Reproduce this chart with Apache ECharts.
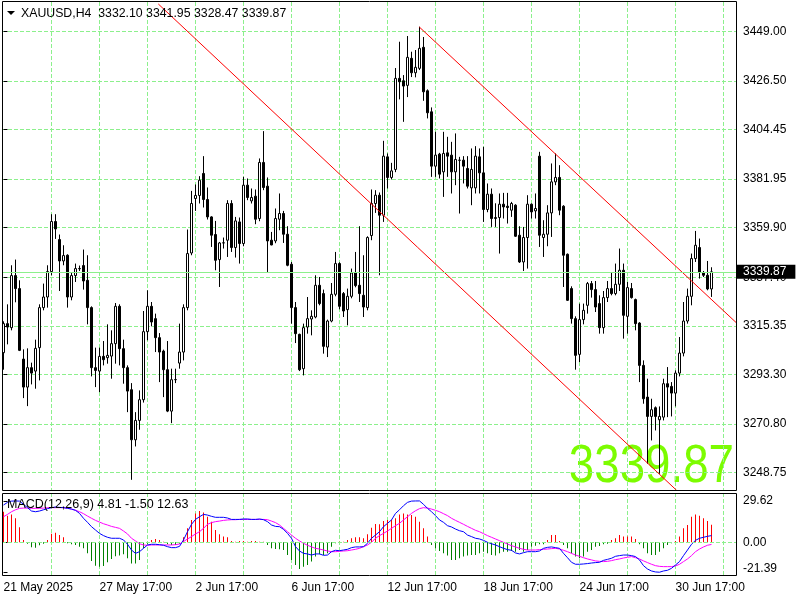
<!DOCTYPE html>
<html><head><meta charset="utf-8">
<script src="https://cdn.jsdelivr.net/npm/echarts@6/dist/echarts.min.js"></script>
<style>html,body{margin:0;padding:0;background:#fff}#c{width:800px;height:600px}</style>
</head><body><div id="c"></div>
<script>
const symbol = 'XAUUSD';
const timeframe = 'H4';
const macdParams = '12,26,9';

const opens = [3303.16,3316.35,3314.53,3338.17,3332.26,3300.25,3287.53,3296.35,3294.80,3305.44,
3323.62,3328.44,3339.99,3362.72,3354.53,3344.81,3347.40,3328.44,3338.17,3341.35,
3342.71,3336.03,3323.62,3296.35,3294.80,3301.48,3300.89,3301.62,3307.26,3324.21,
3304.98,3296.35,3286.34,3263.61,3272.39,3281.80,3312.71,3324.21,3318.62,3309.98,
3303.89,3295.44,3276.62,3290.89,3298.44,3303.44,3323.62,3348.44,3373.17,3374.54,
3384.54,3372.72,3364.81,3356.81,3345.44,3352.99,3354.22,3370.90,3350.90,3362.54,
3352.72,3379.22,3372.08,3374.22,3364.08,3389.54,3378.76,3354.22,3353.90,3363.76,
3366.35,3356.94,3343.31,3323.62,3311.48,3295.89,3314.80,3318.44,3319.35,3333.76,
3329.99,3305.71,3317.53,3329.67,3343.62,3329.99,3322.71,3328.76,3339.35,3333.76,
3329.21,3323.62,3356.35,3370.90,3374.67,3365.58,3392.08,3382.72,3386.36,3427.72,
3426.63,3424.54,3436.82,3430.27,3432.27,3441.82,3422.09,3412.54,3387.86,3393.31,
3385.27,3393.90,3392.86,3385.27,3390.58,3390.58,3386.81,3377.99,3377.99,3392.08,
3384.81,3368.17,3375.13,3364.08,3364.54,3370.58,3369.67,3367.86,3370.13,3356.49,
3344.35,3355.44,3370.58,3367.54,3392.40,3355.44,3356.94,3366.63,3380.72,3382.72,
3369.67,3347.85,3332.26,3318.62,3302.39,3318.17,3324.67,3334.53,3331.80,3325.44,
3314.53,3328.17,3332.26,3329.99,3334.21,3340.58,3319.67,3332.26,3327.26,3316.62,
3297.39,3282.98,3274.21,3278.16,3272.70,3273.89,3289.07,3287.85,3284.80,3293.89,
3302.98,3317.53,3328.76,3345.90,3350.90,3339.35,3338.31,3332.10];

const highs = [3317.39,3325.12,3342.85,3345.44,3336.03,3304.66,3305.12,3298.62,3309.07,3325.12,
3334.53,3342.85,3366.04,3366.04,3356.81,3351.94,3347.85,3339.35,3343.62,3342.71,
3349.99,3347.40,3324.20,3305.44,3305.44,3308.44,3316.03,3313.30,3325.71,3325.12,
3309.07,3297.39,3289.34,3276.16,3286.03,3322.08,3331.49,3326.17,3320.89,3312.07,
3304.53,3308.44,3295.89,3295.89,3316.35,3325.12,3359.08,3376.63,3379.54,3383.31,
3392.40,3378.17,3365.13,3362.99,3353.44,3355.44,3372.40,3372.40,3364.81,3364.54,
3382.99,3382.26,3377.72,3377.26,3391.36,3403.77,3382.72,3357.99,3368.63,3375.45,
3367.54,3360.58,3344.35,3326.17,3311.80,3316.35,3328.44,3322.39,3338.31,3337.53,
3331.80,3318.17,3334.80,3348.90,3344.21,3330.71,3332.26,3341.35,3348.90,3360.58,
3347.40,3356.00,3377.26,3376.95,3375.90,3399.36,3393.63,3389.36,3432.41,3444.36,
3429.22,3446.95,3439.82,3440.59,3451.18,3446.50,3422.72,3414.54,3403.45,3393.90,
3403.45,3401.18,3398.90,3402.72,3392.08,3392.40,3392.40,3395.90,3396.95,3395.90,
3396.63,3379.99,3377.72,3371.00,3375.45,3375.72,3375.72,3371.63,3370.58,3360.58,
3360.26,3374.67,3370.90,3375.45,3394.36,3363.31,3370.13,3389.08,3393.63,3388.31,
3370.13,3348.20,3333.30,3319.67,3325.44,3325.44,3335.26,3335.71,3335.71,3329.21,
3331.17,3335.71,3339.80,3343.62,3350.44,3343.62,3335.26,3334.80,3327.72,3317.00,
3299.66,3291.34,3282.25,3278.75,3278.75,3291.34,3296.62,3289.80,3295.12,3310.26,
3326.17,3332.26,3348.17,3358.44,3354.99,3340.26,3344.80,3341.95];

const lows = [3295.44,3306.94,3313.30,3326.03,3303.89,3282.53,3278.89,3288.75,3286.80,3290.57,
3322.39,3323.62,3338.31,3354.81,3331.17,3342.85,3323.62,3326.94,3335.26,3340.26,
3331.80,3316.03,3292.39,3287.53,3285.25,3297.39,3298.16,3291.34,3298.16,3297.39,
3289.07,3276.16,3245.43,3260.57,3268.16,3280.50,3308.76,3315.12,3303.44,3289.80,
3282.98,3276.16,3271.16,3289.34,3295.89,3299.66,3322.39,3347.40,3367.54,3370.90,
3369.08,3363.63,3351.17,3340.58,3332.99,3350.44,3346.62,3348.90,3346.35,3343.62,
3351.49,3372.40,3370.90,3361.49,3362.85,3376.95,3339.53,3351.94,3352.85,3358.76,
3352.99,3342.40,3316.35,3307.53,3294.80,3292.84,3311.80,3311.03,3318.76,3324.67,
3302.71,3301.16,3316.94,3328.76,3322.85,3319.35,3315.57,3327.85,3332.85,3326.17,
3319.35,3322.39,3354.22,3366.63,3338.31,3362.54,3377.72,3381.81,3385.13,3418.18,
3407.99,3419.22,3428.32,3428.18,3431.50,3417.54,3409.54,3382.99,3382.99,3382.26,
3373.90,3382.99,3375.45,3379.22,3366.35,3379.99,3377.72,3370.13,3375.45,3375.45,
3362.54,3366.94,3360.26,3360.26,3348.17,3364.08,3361.81,3364.81,3355.72,3343.90,
3340.26,3341.35,3364.08,3364.08,3351.17,3346.62,3351.49,3355.72,3379.22,3365.58,
3332.99,3326.63,3316.35,3295.44,3298.89,3316.03,3320.89,3328.17,3321.62,3311.80,
3311.80,3326.17,3329.21,3329.21,3331.17,3309.53,3311.80,3327.72,3313.30,3289.80,
3279.98,3252.70,3263.30,3267.84,3248.16,3272.39,3273.89,3274.21,3278.75,3292.39,
3301.48,3316.35,3324.67,3344.35,3336.80,3337.53,3331.49,3328.47];

const closes = [3316.35,3314.80,3338.17,3332.26,3304.21,3287.53,3296.35,3293.89,3305.12,3323.62,
3328.44,3339.99,3362.72,3359.35,3344.81,3347.26,3328.44,3338.17,3341.35,3341.30,
3335.71,3323.62,3296.35,3295.12,3301.48,3299.98,3301.94,3307.26,3324.21,3304.98,
3296.35,3285.71,3263.61,3272.39,3281.80,3312.71,3324.21,3317.08,3309.98,3303.44,
3295.44,3276.62,3290.89,3290.95,3303.44,3323.62,3348.17,3370.90,3374.54,3381.49,
3372.72,3364.81,3356.49,3345.12,3352.99,3353.05,3370.90,3350.90,3362.99,3352.72,
3379.22,3373.63,3373.63,3363.76,3389.54,3378.17,3353.90,3352.08,3364.08,3366.35,
3356.94,3342.85,3323.62,3311.80,3295.44,3314.53,3318.62,3319.67,3333.76,3325.44,
3306.03,3317.53,3329.67,3343.62,3324.21,3322.08,3328.76,3339.35,3333.62,3329.99,
3323.89,3355.44,3370.90,3374.67,3365.58,3392.40,3382.72,3385.72,3427.72,3426.18,
3424.22,3437.27,3430.27,3432.73,3441.36,3421.63,3412.09,3387.86,3392.86,3384.22,
3393.63,3392.40,3385.27,3390.90,3390.50,3387.86,3378.76,3386.36,3392.40,3384.81,
3368.17,3375.13,3364.08,3364.54,3370.58,3369.35,3369.08,3370.90,3356.03,3344.35,
3355.44,3370.58,3367.08,3368.63,3356.49,3356.94,3366.63,3380.72,3382.72,3367.86,
3347.40,3326.94,3318.62,3301.94,3318.17,3322.39,3334.53,3331.80,3323.89,3314.53,
3328.17,3332.26,3329.99,3334.21,3340.58,3320.12,3332.71,3328.17,3316.35,3297.39,
3282.25,3274.21,3277.25,3274.21,3274.21,3289.07,3287.53,3284.80,3293.89,3302.98,
3317.53,3328.76,3345.90,3351.94,3339.80,3338.31,3332.10,3339.87];

const macdMain = [26.7,28.6,29.5,29.6,29.5,27.2,24.8,22.4,21.9,22.4,
23.3,24.1,24.8,25.3,25.0,24.8,24.3,23.8,22.9,20.7,
17.2,14.3,11.2,8.8,6.4,4.8,3.6,2.9,2.9,2.9,
1.7,-1.4,-5.5,-7.9,-6.7,-4.3,-1.9,-1.4,-1.4,-1.7,
-2.1,-3.1,-3.8,-3.8,-2.9,1.7,7.6,12.9,16.4,18.3,
20.0,19.5,18.6,17.9,17.9,17.9,17.4,16.4,16.4,16.4,
16.7,16.7,16.4,16.4,16.7,16.2,14.8,12.4,11.4,11.2,
9.3,6.4,2.9,-3.1,-6.2,-7.9,-8.3,-9.1,-8.3,-8.3,
-9.3,-9.1,-6.7,-5.7,-6.0,-5.5,-5.0,-3.8,-3.3,-3.3,
-3.1,-0.7,2.9,5.2,7.6,11.2,13.6,16.0,20.7,23.3,
26.2,28.6,29.5,29.6,29.62,27.2,24.3,21.9,19.1,16.0,
14.3,11.9,11.0,9.5,8.3,7.6,5.2,4.1,2.9,2.4,
1.4,0.0,-1.0,-1.9,-3.1,-4.3,-5.2,-5.7,-7.6,-8.3,
-7.4,-6.7,-6.7,-6.7,-6.2,-4.3,-3.6,-3.3,-3.8,-4.3,
-7.9,-11.0,-14.3,-15.7,-15.7,-15.5,-15.2,-14.8,-14.5,-14.3,
-12.9,-12.2,-11.4,-10.0,-9.5,-9.1,-9.1,-9.5,-10.2,-12.6,
-16.7,-19.1,-20.5,-21.2,-21.39,-20.5,-20.0,-18.6,-16.2,-13.8,
-9.5,-5.5,-1.4,1.4,2.9,3.6,4.3,4.81];

const macdSignal = [18.3,20.0,21.9,23.3,24.3,24.5,24.5,24.3,24.3,24.3,
24.5,24.8,24.8,24.8,24.8,24.8,24.5,23.8,22.9,21.9,
20.5,18.8,17.2,15.7,14.5,13.3,12.4,11.4,10.7,10.0,
8.1,6.0,2.9,1.0,-1.0,-1.9,-2.1,-1.9,-1.9,-1.9,
-1.9,-1.9,-1.9,-1.7,-1.2,0.5,2.4,4.1,6.0,7.6,
10.0,12.9,14.1,14.8,15.2,15.7,16.0,16.2,16.2,16.4,
16.4,16.4,16.4,16.4,16.4,16.4,16.2,15.2,14.1,12.4,
10.0,7.6,5.2,2.9,1.0,-0.7,-2.1,-3.3,-4.3,-4.8,
-5.5,-6.2,-6.7,-6.7,-6.4,-6.2,-6.0,-5.5,-5.0,-4.3,
-3.1,-1.9,0.0,2.9,4.8,6.4,8.1,10.0,11.9,13.6,
16.0,18.3,20.7,22.6,24.1,24.8,24.5,23.8,22.9,21.9,
20.5,19.1,17.2,15.7,14.3,12.9,11.4,10.0,8.6,7.6,
6.2,4.8,3.6,2.4,1.2,0.0,-1.2,-2.4,-3.3,-4.3,
-5.0,-5.5,-5.5,-5.5,-5.2,-5.0,-4.8,-4.5,-4.3,-4.8,
-5.7,-6.7,-7.9,-9.1,-10.0,-11.0,-11.9,-12.6,-13.3,-13.6,
-13.8,-13.6,-13.1,-12.4,-11.9,-11.2,-10.7,-10.2,-11.0,-11.9,
-13.3,-14.5,-15.7,-16.7,-17.2,-17.4,-17.4,-17.4,-16.9,-15.7,
-13.8,-11.9,-9.5,-6.7,-4.8,-3.3,-2.1,-1.50];

const macdHist = [21.9,19.1,20.0,17.2,10.7,1.7,-1.0,-3.6,-3.8,-2.1,
-1.0,1.7,6.2,6.9,5.2,3.6,-0.7,-1.4,-1.9,-3.1,
-4.3,-7.9,-13.3,-16.7,-17.4,-16.9,-14.3,-11.9,-10.0,-9.5,
-8.6,-11.4,-15.2,-15.2,-12.6,-4.3,-1.0,1.7,2.4,1.7,
0.5,-1.4,-1.9,-1.9,-1.0,3.6,10.0,16.0,20.7,22.4,
21.4,18.3,14.8,8.8,5.7,4.1,3.6,1.0,0.5,1.0,
1.0,0.5,1.0,1.0,0.5,0.5,-1.9,-4.3,-4.8,-5.0,
-5.5,-9.1,-12.6,-16.2,-19.1,-17.4,-16.2,-13.8,-10.2,-8.6,
-9.1,-7.9,-3.1,-0.7,0.5,0.5,1.7,2.9,3.6,3.6,
2.9,5.7,10.5,13.1,12.9,15.2,16.0,16.0,17.2,20.0,
20.7,20.0,19.5,18.3,14.8,10.0,4.1,-1.9,-4.3,-6.2,
-7.9,-9.5,-12.6,-12.6,-11.4,-10.2,-9.5,-9.1,-9.1,-7.9,
-6.7,-7.9,-9.1,-9.5,-7.9,-6.7,-6.7,-6.2,-6.7,-5.5,
-6.7,-5.5,-3.1,-2.4,-1.4,-1.4,1.7,5.2,5.2,1.0,
-1.9,-4.3,-7.9,-10.2,-11.4,-10.2,-6.7,-5.5,-3.1,-2.6,
-1.4,-1.0,1.7,2.9,5.2,4.1,4.1,4.1,2.4,-1.4,
-4.3,-7.9,-9.1,-9.1,-6.7,-4.3,-1.9,-0.7,1.0,4.1,
10.0,12.4,18.3,20.0,19.1,17.2,15.2,12.63];

const timeLabels = ['21 May 2025','27 May 17:00','2 Jun 17:00','6 Jun 17:00','12 Jun 17:00','18 Jun 17:00','24 Jun 17:00','30 Jun 17:00'];
const timeLabelBars = [0,24,48,72,96,120,144,168];
const priceTicks = [3248.75,3270.80,3293.30,3315.35,3337.40,3359.90,3381.95,3404.45,3426.50,3449.00];
const macdTicks = [-21.39,0.00,29.62];
const trendLines = [
  [[38.7,3461.5],[168.3,3240.6]],
  [[103.95,3451.05],[183.3,3316.6]]
];

const FONT = 'Liberation Sans';
const GRID_GREEN = '#8CF08C';
const HIST_UP = '#FF0000', HIST_DOWN = '#008000';
const last = closes.length - 1;
const gridBars = [];
for (let b = 12; b <= 180; b += 12) gridBars.push(b);

const candleData = opens.map((o, i) => [i, o, closes[i], lows[i], highs[i]]);
const mainData = macdMain.map((v, i) => [i, v]);
const signalData = macdSignal.map((v, i) => [i, v]);
const histData = macdHist.map((v, i) => ({value: [i, v], itemStyle: {color: v >= 0 ? HIST_UP : HIST_DOWN}}));

const xMin = -0.375, xMax = 183.125;
const dashed = () => ({color: GRID_GREEN, type: [4, 2], width: 1, opacity: 1});

const chart = echarts.init(document.getElementById('c'), null, {renderer: 'canvas'});
const option = {
  animation: false,
  backgroundColor: '#fff',
  textStyle: {fontFamily: FONT},
  grid: [
    {left: 2, top: 2, width: 734, height: 488, show: false},
    {left: 2, top: 493, width: 734, height: 83, show: false}
  ],
  xAxis: [
    {type: 'value', gridIndex: 0, min: xMin, max: xMax,
     axisLine: {show: false}, axisTick: {show: false, customValues: gridBars},
     axisLabel: {show: false}, splitLine: {show: true, lineStyle: dashed()}},
    {type: 'value', gridIndex: 1, min: xMin, max: xMax,
     axisLine: {show: false}, axisTick: {show: false, customValues: gridBars},
     axisLabel: {show: true, customValues: timeLabelBars, align: 'left', margin: 6,
       color: '#000', fontSize: 12, fontFamily: FONT,
       formatter: v => timeLabels[timeLabelBars.indexOf(Math.round(v))] || ''},
     splitLine: {show: true, lineStyle: dashed()}}
  ],
  yAxis: [
    {type: 'value', gridIndex: 0, position: 'right', min: 3240.80, max: 3462.40,
     axisLine: {show: false},
     axisTick: {show: true, length: 4, customValues: priceTicks, lineStyle: {color: '#000'}},
     axisLabel: {customValues: priceTicks, margin: 7, color: '#000', fontSize: 12, fontFamily: FONT,
       formatter: v => v.toFixed(2)},
     splitLine: {show: true, lineStyle: dashed()}},
    {type: 'value', gridIndex: 1, position: 'right', min: -24.1, max: 35.3,
     axisLine: {show: false},
     axisTick: {show: true, length: 4, customValues: macdTicks, lineStyle: {color: '#000'}},
     axisLabel: {customValues: macdTicks, margin: 7, color: '#000', fontSize: 12, fontFamily: FONT,
       formatter: v => (v < -20 ? '{lo|' + v.toFixed(2) + '}' : v.toFixed(2)),
       rich: {lo: {padding: [0, 0, 8, 0], color: '#000', fontSize: 12, fontFamily: FONT}}},
     splitLine: {show: false}}
  ],
  series: [
    {type: 'candlestick', xAxisIndex: 0, yAxisIndex: 0, data: candleData, barWidth: 2,
     itemStyle: {color: '#fff', color0: '#000', borderColor: '#000', borderColor0: '#000', borderWidth: 1},
     markLine: {silent: true, symbol: 'none', animation: false,
       data: [{yAxis: closes[last]}],
       lineStyle: {color: GRID_GREEN, type: 'solid', width: 1},
       label: {position: 'end', distance: 0, formatter: () => closes[last].toFixed(2),
         backgroundColor: '#000', color: '#fff', fontSize: 12, fontFamily: FONT,
         padding: [1, 9, 0, 7], lineHeight: 13}}},
    {type: 'line', xAxisIndex: 0, yAxisIndex: 0, data: trendLines[0], symbol: 'none',
     lineStyle: {color: '#FF0000', width: 1}, z: 3},
    {type: 'line', xAxisIndex: 0, yAxisIndex: 0, data: trendLines[1], symbol: 'none',
     lineStyle: {color: '#FF0000', width: 1}, z: 3},
    {type: 'bar', xAxisIndex: 1, yAxisIndex: 1, data: histData, barWidth: 1,
     markLine: {silent: true, symbol: 'none', animation: false, data: [{yAxis: 0}],
       lineStyle: {color: GRID_GREEN, type: [4, 2], width: 1}, label: {show: false}}},
    {type: 'line', xAxisIndex: 1, yAxisIndex: 1, data: mainData, symbol: 'none',
     lineStyle: {color: '#0000FF', width: 1}, z: 4},
    {type: 'line', xAxisIndex: 1, yAxisIndex: 1, data: signalData, symbol: 'none',
     lineStyle: {color: '#FF00FF', width: 1}, z: 3}
  ],
  graphic: [
    {type: 'text', x: 734, y: 494, z: 0, scaleX: 0.862, scaleY: 1,
     style: {text: closes[last].toFixed(2), fontSize: 53, fontFamily: FONT, fill: '#7CFC00', align: 'right', verticalAlign: 'bottom'}},
    {type: 'rect', shape: {x: 2.5, y: 1.5, width: 734, height: 489}, style: {fill: 'none', stroke: '#000', lineWidth: 1}, z: 10},
    {type: 'rect', shape: {x: 2.5, y: 493.5, width: 734, height: 82}, style: {fill: 'none', stroke: '#000', lineWidth: 1}, z: 10},
    {type: 'polygon', shape: {points: [[7, 11], [15, 11], [11, 15]]}, style: {fill: '#000'}, z: 10},
    {type: 'text', x: 21, y: 14, z: 10,
     style: {text: symbol + ',' + timeframe + '  ' + opens[last].toFixed(2) + ' ' + highs[last].toFixed(2) + ' ' + lows[last].toFixed(2) + ' ' + closes[last].toFixed(2),
       fontSize: 12.3, fontFamily: FONT, fill: '#000', verticalAlign: 'middle'}},
    {type: 'text', x: 7, y: 505, z: 10,
     style: {text: 'MACD(' + macdParams + ') ' + macdMain[last].toFixed(2) + ' ' + macdSignal[last].toFixed(2) + ' ' + macdHist[last].toFixed(2),
       fontSize: 12.5, fontFamily: FONT, fill: '#000', verticalAlign: 'middle'}}
  ]
};
chart.setOption(option);
</script>
</body></html>
